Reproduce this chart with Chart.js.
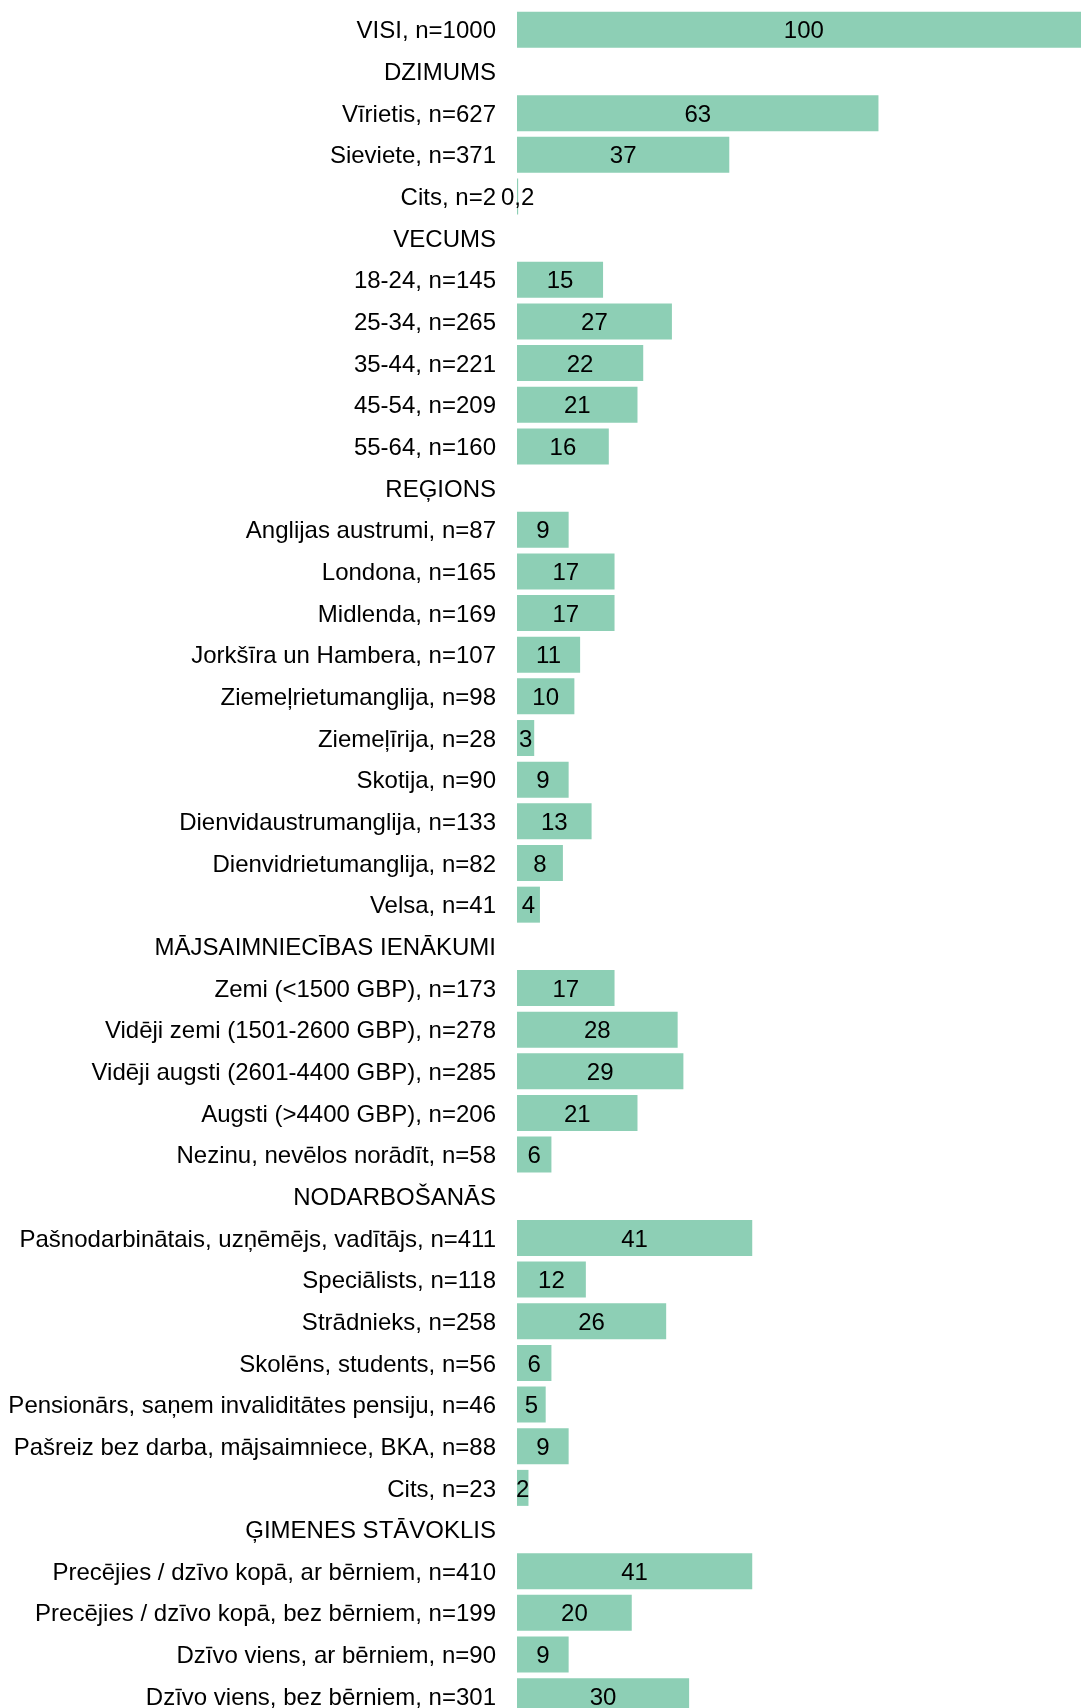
<!DOCTYPE html>
<html lang="lv">
<head>
<meta charset="utf-8">
<title>Respondentu sadalījums</title>
<script src="https://cdn.jsdelivr.net/npm/chart.js@4.4.1/dist/chart.umd.min.js"></script>
<style>
  html, body { margin: 0; padding: 0; background: #ffffff; overflow: hidden; }
  #wrap { width: 1081px; height: 1717px; }
</style>
</head>
<body>
<div id="wrap"><canvas id="chart" width="1081" height="1717"></canvas></div>
<script>
// Row labels (group headers have no bar)
const categories = [
  'VISI, n=1000',
  'DZIMUMS',
  'Vīrietis, n=627',
  'Sieviete, n=371',
  'Cits, n=2',
  'VECUMS',
  '18-24, n=145',
  '25-34, n=265',
  '35-44, n=221',
  '45-54, n=209',
  '55-64, n=160',
  'REĢIONS',
  'Anglijas austrumi, n=87',
  'Londona, n=165',
  'Midlenda, n=169',
  'Jorkšīra un Hambera, n=107',
  'Ziemeļrietumanglija, n=98',
  'Ziemeļīrija, n=28',
  'Skotija, n=90',
  'Dienvidaustrumanglija, n=133',
  'Dienvidrietumanglija, n=82',
  'Velsa, n=41',
  'MĀJSAIMNIECĪBAS IENĀKUMI',
  'Zemi (<1500 GBP), n=173',
  'Vidēji zemi (1501-2600 GBP), n=278',
  'Vidēji augsti (2601-4400 GBP), n=285',
  'Augsti (>4400 GBP), n=206',
  'Nezinu, nevēlos norādīt, n=58',
  'NODARBOŠANĀS',
  'Pašnodarbinātais, uzņēmējs, vadītājs, n=411',
  'Speciālists, n=118',
  'Strādnieks, n=258',
  'Skolēns, students, n=56',
  'Pensionārs, saņem invaliditātes pensiju, n=46',
  'Pašreiz bez darba, mājsaimniece, BKA, n=88',
  'Cits, n=23',
  'ĢIMENES STĀVOKLIS',
  'Precējies / dzīvo kopā, ar bērniem, n=410',
  'Precējies / dzīvo kopā, bez bērniem, n=199',
  'Dzīvo viens, ar bērniem, n=90',
  'Dzīvo viens, bez bērniem, n=301'
];

// Share of respondents, %
const shares = [
  100,
  null,
  63, 37, 0.2,
  null,
  15, 27, 22, 21, 16,
  null,
  9, 17, 17, 11, 10, 3, 9, 13, 8, 4,
  null,
  17, 28, 29, 21, 6,
  null,
  41, 12, 26, 6, 5, 9, 2,
  null,
  41, 20, 9, 30
];

// Value axis; the 100 % bar runs past the right edge and is clipped there
const axisRange = [0, 98.3];

const FONT = { family: '"Liberation Sans", Arial, Helvetica, sans-serif', size: 24 };

// Writes each value in the middle of its (unclipped) bar, with a decimal comma
const barValueLabels = {
  id: 'barValueLabels',
  afterDatasetsDraw(chart) {
    const ctx = chart.ctx;
    ctx.save();
    ctx.font = FONT.size + 'px ' + FONT.family;
    ctx.fillStyle = '#000000';
    ctx.textAlign = 'center';
    ctx.textBaseline = 'middle';
    chart.data.datasets.forEach((ds, di) => {
      chart.getDatasetMeta(di).data.forEach((bar, i) => {
        const v = ds.data[i];
        if (v === null || v === undefined) return;
        const txt = String(v).replace('.', ',');
        ctx.fillText(txt, (bar.x + bar.base) / 2, bar.y + 2);
      });
    });
    ctx.restore();
  }
};

new Chart(document.getElementById('chart'), {
  type: 'bar',
  data: {
    labels: categories,
    datasets: [{
      data: shares,
      backgroundColor: '#8dcfb5',
      borderWidth: 0,
      barPercentage: 0.864,
      categoryPercentage: 1.0
    }]
  },
  options: {
    indexAxis: 'y',
    responsive: false,
    devicePixelRatio: 1,
    animation: false,
    layout: { padding: { top: 9, right: 0, bottom: 0, left: 0 } },
    plugins: {
      legend: { display: false },
      tooltip: { enabled: false }
    },
    scales: {
      x: {
        display: false,
        min: axisRange[0],
        max: axisRange[1]
      },
      y: {
        afterFit(scale) {
          scale.width = 517;
          scale.paddingTop = 0;
          scale.paddingBottom = 0;
        },
        grid: { display: false, drawTicks: false },
        border: { display: false },
        ticks: {
          autoSkip: false,
          padding: 21,
          labelOffset: 2,
          color: '#000000',
          font: FONT
        }
      }
    }
  },
  plugins: [barValueLabels]
});
</script>
</body>
</html>
